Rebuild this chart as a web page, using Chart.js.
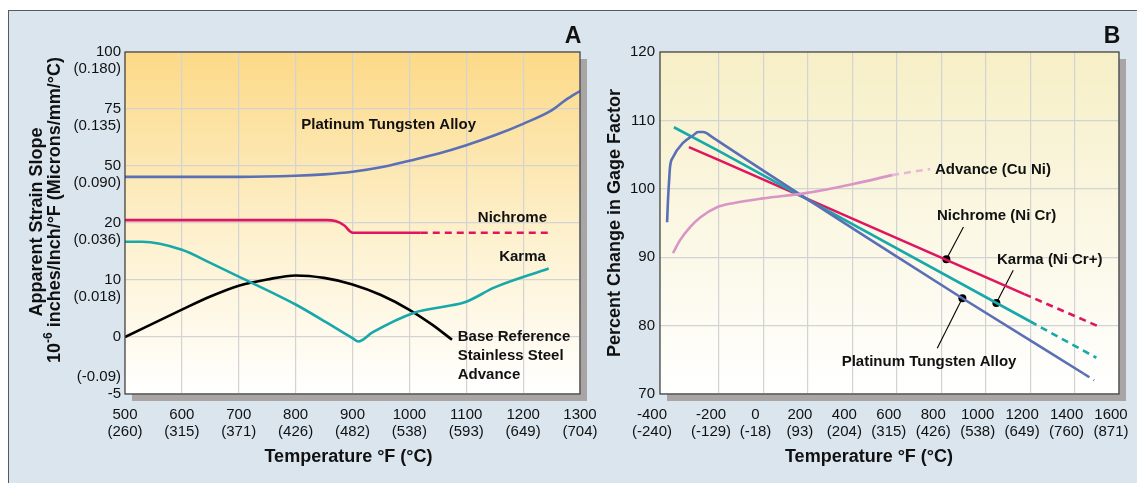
<!DOCTYPE html>
<html><head><meta charset="utf-8">
<script src="https://cdn.jsdelivr.net/npm/chart.js@4.4.1/dist/chart.umd.min.js"></script>
<style>
html,body{margin:0;padding:0;background:#fff;width:1137px;height:483px;overflow:hidden}
#frame{position:absolute;left:8px;top:10px;width:1140px;height:480px;background:#dae5ee;border-left:1px solid #5a5a5a;border-top:1px solid #5a5a5a}
canvas{position:absolute;top:0}
#cA{left:0}
#cB{left:600px}
</style></head><body>
<div id="frame"></div>
<canvas id="cA" width="600" height="483"></canvas>
<canvas id="cB" width="537" height="483"></canvas>
<script>
const FONT = '"Liberation Sans", Arial, Helvetica, sans-serif';

// ===== Chart A : Apparent strain slope =====
const tempA_F = [500, 600, 700, 800, 900, 1000, 1100, 1200, 1300];
const tempA_C = [260, 315, 371, 426, 482, 538, 593, 649, 704];
const strainTicks = [100, 75, 50, 20, 10, 0, -5];
const strainTicksMetric = ['(0.180)', '(0.135)', '(0.090)', '(0.036)', '(0.018)', '', '(-0.09)'];

const ptwA_T = [500, 600, 700, 800, 850, 900, 950, 1000, 1050, 1100, 1150, 1200, 1250, 1275, 1300];
const ptwA_V = [44.3, 44.3, 44.3, 44.85, 45.6, 46.95, 49.3, 52.3, 55.35, 59.1, 63.45, 68.5, 74.4, 79.0, 82.9];

const nichromeA_T = [500, 855, 870, 885, 900, 1020];
const nichromeA_V = [21.5, 21.5, 21.0, 19.6, 18.3, 18.3];
const nichromeA_dashT = [1020, 1250];
const nichromeA_dashV = [18.3, 18.3];

const karmaA_T = [500, 530, 600, 650, 700, 800, 860, 900, 910, 935, 1010, 1060, 1100, 1150, 1245];
const karmaA_V = [16.7, 16.7, 15.3, 13.0, 10.6, 5.7, 2.2, -0.1, -0.4, 0.8, 4.3, 5.3, 6.2, 8.7, 12.0];

const baseA_T = [500, 600, 650, 700, 750, 800, 850, 900, 950, 1000, 1040, 1075];
const baseA_V = [0, 4.8, 7.1, 9.0, 10.1, 10.8, 10.37, 9.23, 7.37, 4.78, 2.17, -0.24];

// ===== Chart B : Percent change in gage factor =====
const tempB_F = [-400, -200, 0, 200, 400, 600, 800, 1000, 1200, 1400, 1600];
const tempB_C = [-240, -129, -18, 93, 204, 315, 426, 538, 649, 760, 871];
const gageTicks = [70, 80, 90, 100, 110, 120];

const ptwB_T = [-376, -373, -369, -366, -356, -322, -288, -271, -254, -224, -200, 570, 895, 1440];
const ptwB_V = [95.1, 98.3, 101.3, 103.2, 104.6, 106.7, 107.8, 108.3, 108.3, 107.6, 106.9, 90.7, 84.0, 73.0];
const ptwB_dashT = [1440, 1488];
const ptwB_dashV = [73.0, 72.0];

const karmaB_T = [-353, -200, 1201];
const karmaB_V = [109.0, 105.5, 80.6];
const karmaB_dashT = [1201, 1498];
const karmaB_dashV = [80.6, 75.3];

const nichromeB_T = [-302, -200, 1174];
const nichromeB_V = [106.1, 104.2, 84.6];
const nichromeB_dashT = [1174, 1507];
const nichromeB_dashV = [84.6, 79.9];

const advanceB_T = [-356, -332, -298, -264, -207, -137, -2, 196, 404, 579];
const advanceB_V = [90.6, 92.5, 94.4, 95.8, 97.3, 97.9, 98.6, 99.4, 100.7, 102.0];
const advanceB_dashT = [579, 750];
const advanceB_dashV = [102.0, 102.9];

// marker dots on chart B: Nichrome, Karma, Platinum Tungsten
const dotsB_T = [823, 1048, 895];
const dotsB_V = [89.7, 83.3, 84.0];
// leader line far ends (same order)
const leaderB_T = [900, 1124, 782];
const leaderB_V = [94.4, 88.1, 76.7];

// ---- colours ----
const C_BLUE = '#5a6fb6', C_RED = '#e0155f', C_TEAL = '#17a8aa', C_PINK = '#d995c6', C_PINK_L = '#e6b9da';

// ---- axis transforms (the original axes are piecewise) ----
const yBreak = strainTicks.slice().reverse();
function posY(v) {
  for (let i = 0; i < yBreak.length - 1; i++) {
    if (v <= yBreak[i + 1] || i === yBreak.length - 2) {
      return i + (v - yBreak[i]) / (yBreak[i + 1] - yBreak[i]);
    }
  }
}
const B_STRETCH = 59 / 44.4; // first interval (-400..-200) is drawn wider
function posX(F) { return F >= -200 ? F : -200 + (F + 200) * B_STRETCH; }
const ident = v => v;

function ds(xs, vs, fx, fy, color, extra) {
  return Object.assign({
    data: xs.map((x, i) => ({ x: fx(x), y: fy(vs[i]) })),
    borderColor: color, borderWidth: 2.6, pointRadius: 0, fill: false,
    cubicInterpolationMode: 'monotone', borderCapStyle: 'butt', borderJoinStyle: 'round'
  }, extra || {});
}
const DASH = { borderDash: [7, 5] };

function bgPlugin(top, bottom) {
  return {
    id: 'bg',
    beforeDraw(chart) {
      const a = chart.chartArea, ctx = chart.ctx;
      ctx.save();
      ctx.fillStyle = '#a9a5a5';
      ctx.fillRect(a.left + 7, a.top + 7, a.right - a.left, a.bottom - a.top);
      const g = ctx.createLinearGradient(0, a.top, 0, a.bottom);
      g.addColorStop(0, top); g.addColorStop(0.55, bottom[0]); g.addColorStop(1, bottom[1]);
      ctx.fillStyle = g;
      ctx.fillRect(a.left, a.top, a.right - a.left, a.bottom - a.top);
      ctx.restore();
    },
    afterDatasetsDraw(chart) {
      const a = chart.chartArea, ctx = chart.ctx;
      ctx.save();
      ctx.strokeStyle = '#3c3c3c'; ctx.lineWidth = 1.2;
      ctx.strokeRect(a.left, a.top, a.right - a.left, a.bottom - a.top);
      ctx.restore();
    }
  };
}

function txt(ctx, s, x, y, size, bold, align) {
  ctx.font = (bold ? 'bold ' : '') + size + 'px ' + FONT;
  ctx.textAlign = align || 'left';
  ctx.textBaseline = 'middle';
  ctx.fillStyle = '#111';
  ctx.fillText(s, x, y);
}

const gridOpts = { color: '#d3d3d3', lineWidth: 1.2, drawTicks: false };

// ================= Chart A =================
const textA = {
  id: 'textA',
  afterDraw(chart) {
    const ctx = chart.ctx, xs = chart.scales.x, ys = chart.scales.y, a = chart.chartArea;
    const P = (F, v) => [xs.getPixelForValue(F), ys.getPixelForValue(posY(v))];
    ctx.save();
    strainTicks.forEach((v, i) => {
      const y = ys.getPixelForValue(posY(v));
      txt(ctx, String(v), a.left - 4, y, 15, false, 'right');
      if (strainTicksMetric[i]) {
        const dy = v < 0 ? -17 : 17;
        txt(ctx, strainTicksMetric[i], a.left - 4, y + dy, 15, false, 'right');
      }
    });
    txt(ctx, 'Temperature °F (°C)', (a.left + a.right) / 2 - 4, 457, 18, true, 'center');
    ctx.save();
    ctx.translate(37, 222); ctx.rotate(-Math.PI / 2);
    txt(ctx, 'Apparent Strain Slope', 0, 0, 18, true, 'center');
    ctx.restore();
    ctx.save();
    ctx.translate(55, 210); ctx.rotate(-Math.PI / 2);
    ctx.font = 'bold 18px ' + FONT;
    const w1 = ctx.measureText('10').width;
    const rest = ' inches/Inch/°F (Microns/mm/°C)';
    const w3 = ctx.measureText(rest).width;
    ctx.font = 'bold 12px ' + FONT;
    const w2 = ctx.measureText('-6').width;
    let x0 = -(w1 + w2 + w3) / 2;
    txt(ctx, '10', x0, 0, 18, true, 'left');
    txt(ctx, '-6', x0 + w1, -6, 12, true, 'left');
    txt(ctx, rest, x0 + w1 + w2, 0, 18, true, 'left');
    ctx.restore();
    txt(ctx, 'A', a.right - 7, 37, 23, true, 'center');
    let p = P(810, 68.0); txt(ctx, 'Platinum Tungsten Alloy', p[0], p[1], 15, true, 'left');
    p = P(1242, 22.8); txt(ctx, 'Nichrome', p[0], p[1], 15, true, 'right');
    p = P(1240, 14.1); txt(ctx, 'Karma', p[0], p[1], 15, true, 'right');
    p = P(1085, 0.1);
    txt(ctx, 'Base Reference', p[0], p[1], 15, true, 'left');
    txt(ctx, 'Stainless Steel', p[0], p[1] + 19, 15, true, 'left');
    txt(ctx, 'Advance', p[0], p[1] + 38, 15, true, 'left');
    ctx.restore();
  }
};

new Chart(document.getElementById('cA'), {
  type: 'line',
  data: {
    datasets: [
      ds(ptwA_T, ptwA_V, ident, posY, C_BLUE),
      ds(nichromeA_T, nichromeA_V, ident, posY, C_RED),
      ds(nichromeA_dashT, nichromeA_dashV, ident, posY, C_RED, DASH),
      ds(karmaA_T, karmaA_V, ident, posY, C_TEAL),
      ds(baseA_T, baseA_V, ident, posY, '#000')
    ]
  },
  options: {
    responsive: false, animation: false, devicePixelRatio: 1,
    layout: { padding: { top: 52, right: 20, left: 0, bottom: 0 } },
    plugins: { legend: { display: false }, tooltip: { enabled: false } },
    scales: {
      x: {
        type: 'linear', min: tempA_F[0], max: tempA_F[tempA_F.length - 1],
        afterBuildTicks: s => { s.ticks = tempA_F.map(v => ({ value: v })); },
        afterFit: s => { s.height = 89; s.paddingLeft = 0; s.paddingRight = 0; },
        grid: gridOpts, border: { display: false },
        ticks: {
          autoSkip: false, maxRotation: 0, minRotation: 0, padding: 12, color: '#111',
          font: { size: 15, family: FONT, lineHeight: 1.15 },
          callback: (v, i) => [String(tempA_F[i]), '(' + tempA_C[i] + ')']
        }
      },
      y: {
        type: 'linear', min: 0, max: strainTicks.length - 1,
        afterBuildTicks: s => { s.ticks = strainTicks.map(v => ({ value: posY(v) })); },
        afterFit: s => { s.width = 125; s.paddingTop = 0; s.paddingBottom = 0; },
        grid: gridOpts, border: { display: false },
        ticks: { display: false }
      }
    }
  },
  plugins: [bgPlugin('#fcd987', ['#fdf1cf', '#ffffff']), textA]
});

// ================= Chart B =================
const textB = {
  id: 'textB',
  afterDraw(chart) {
    const ctx = chart.ctx, xs = chart.scales.x, ys = chart.scales.y, a = chart.chartArea;
    const P = (F, v) => [xs.getPixelForValue(posX(F)), ys.getPixelForValue(v)];
    ctx.save();
    txt(ctx, 'Temperature °F (°C)', 269, 457, 18, true, 'center');
    ctx.save();
    ctx.translate(15, 223); ctx.rotate(-Math.PI / 2);
    txt(ctx, 'Percent Change in Gage Factor', 0, 0, 18, true, 'center');
    ctx.restore();
    txt(ctx, 'B', a.right - 7, 37, 23, true, 'center');
    let p = P(772, 102.7); txt(ctx, 'Advance (Cu Ni)', p[0], p[1], 15, true, 'left');
    p = P(1049, 96.0); txt(ctx, 'Nichrome (Ni Cr)', p[0], p[1], 15, true, 'center');
    p = P(1051, 89.65); txt(ctx, 'Karma (Ni Cr+)', p[0], p[1], 15, true, 'left');
    p = P(745, 74.76); txt(ctx, 'Platinum Tungsten Alloy', p[0], p[1], 15, true, 'center');
    ctx.restore();
  }
};

const leaderSets = dotsB_T.map((t, i) => ds([t, leaderB_T[i]], [dotsB_V[i], leaderB_V[i]], posX, ident, '#000',
  { borderWidth: 1.1, cubicInterpolationMode: 'default', tension: 0 }));

new Chart(document.getElementById('cB'), {
  type: 'line',
  data: {
    datasets: [
      ds(advanceB_T, advanceB_V, posX, ident, C_PINK),
      ds(advanceB_dashT, advanceB_dashV, posX, ident, C_PINK_L, DASH),
      ds(ptwB_T, ptwB_V, posX, ident, C_BLUE),
      ds(ptwB_dashT, ptwB_dashV, posX, ident, C_BLUE, DASH),
      ds(karmaB_T, karmaB_V, posX, ident, C_TEAL, { cubicInterpolationMode: 'default', tension: 0 }),
      ds(karmaB_dashT, karmaB_dashV, posX, ident, C_TEAL, DASH),
      ds(nichromeB_T, nichromeB_V, posX, ident, C_RED, { cubicInterpolationMode: 'default', tension: 0 }),
      ds(nichromeB_dashT, nichromeB_dashV, posX, ident, C_RED, DASH),
      ...leaderSets,
      ds(dotsB_T, dotsB_V, posX, ident, '#000', { showLine: false, pointRadius: 4, pointBackgroundColor: '#000', pointBorderWidth: 0 })
    ]
  },
  options: {
    responsive: false, animation: false, devicePixelRatio: 1,
    layout: { padding: { top: 52, right: 18, left: 0, bottom: 0 } },
    plugins: { legend: { display: false }, tooltip: { enabled: false } },
    scales: {
      x: {
        type: 'linear', min: posX(tempB_F[0]), max: tempB_F[tempB_F.length - 1],
        afterBuildTicks: s => { s.ticks = tempB_F.map(v => ({ value: posX(v) })); },
        afterFit: s => { s.height = 89; s.paddingLeft = 0; s.paddingRight = 0; },
        grid: gridOpts, border: { display: false },
        ticks: {
          autoSkip: false, maxRotation: 0, minRotation: 0, padding: 12, labelOffset: -8, color: '#111',
          font: { size: 15, family: FONT, lineHeight: 1.15 },
          callback: (v, i) => [String(tempB_F[i]), '(' + tempB_C[i] + ')']
        }
      },
      y: {
        type: 'linear', min: gageTicks[0], max: gageTicks[gageTicks.length - 1],
        afterBuildTicks: s => { s.ticks = gageTicks.map(v => ({ value: v })); },
        afterFit: s => { s.width = 60; s.paddingTop = 0; s.paddingBottom = 0; },
        grid: gridOpts, border: { display: false },
        ticks: { padding: 5, color: '#111', font: { size: 15, family: FONT } }
      }
    }
  },
  plugins: [bgPlugin('#f6efc6', ['#fbf8e6', '#ffffff']), textB]
});
</script>
</body></html>
